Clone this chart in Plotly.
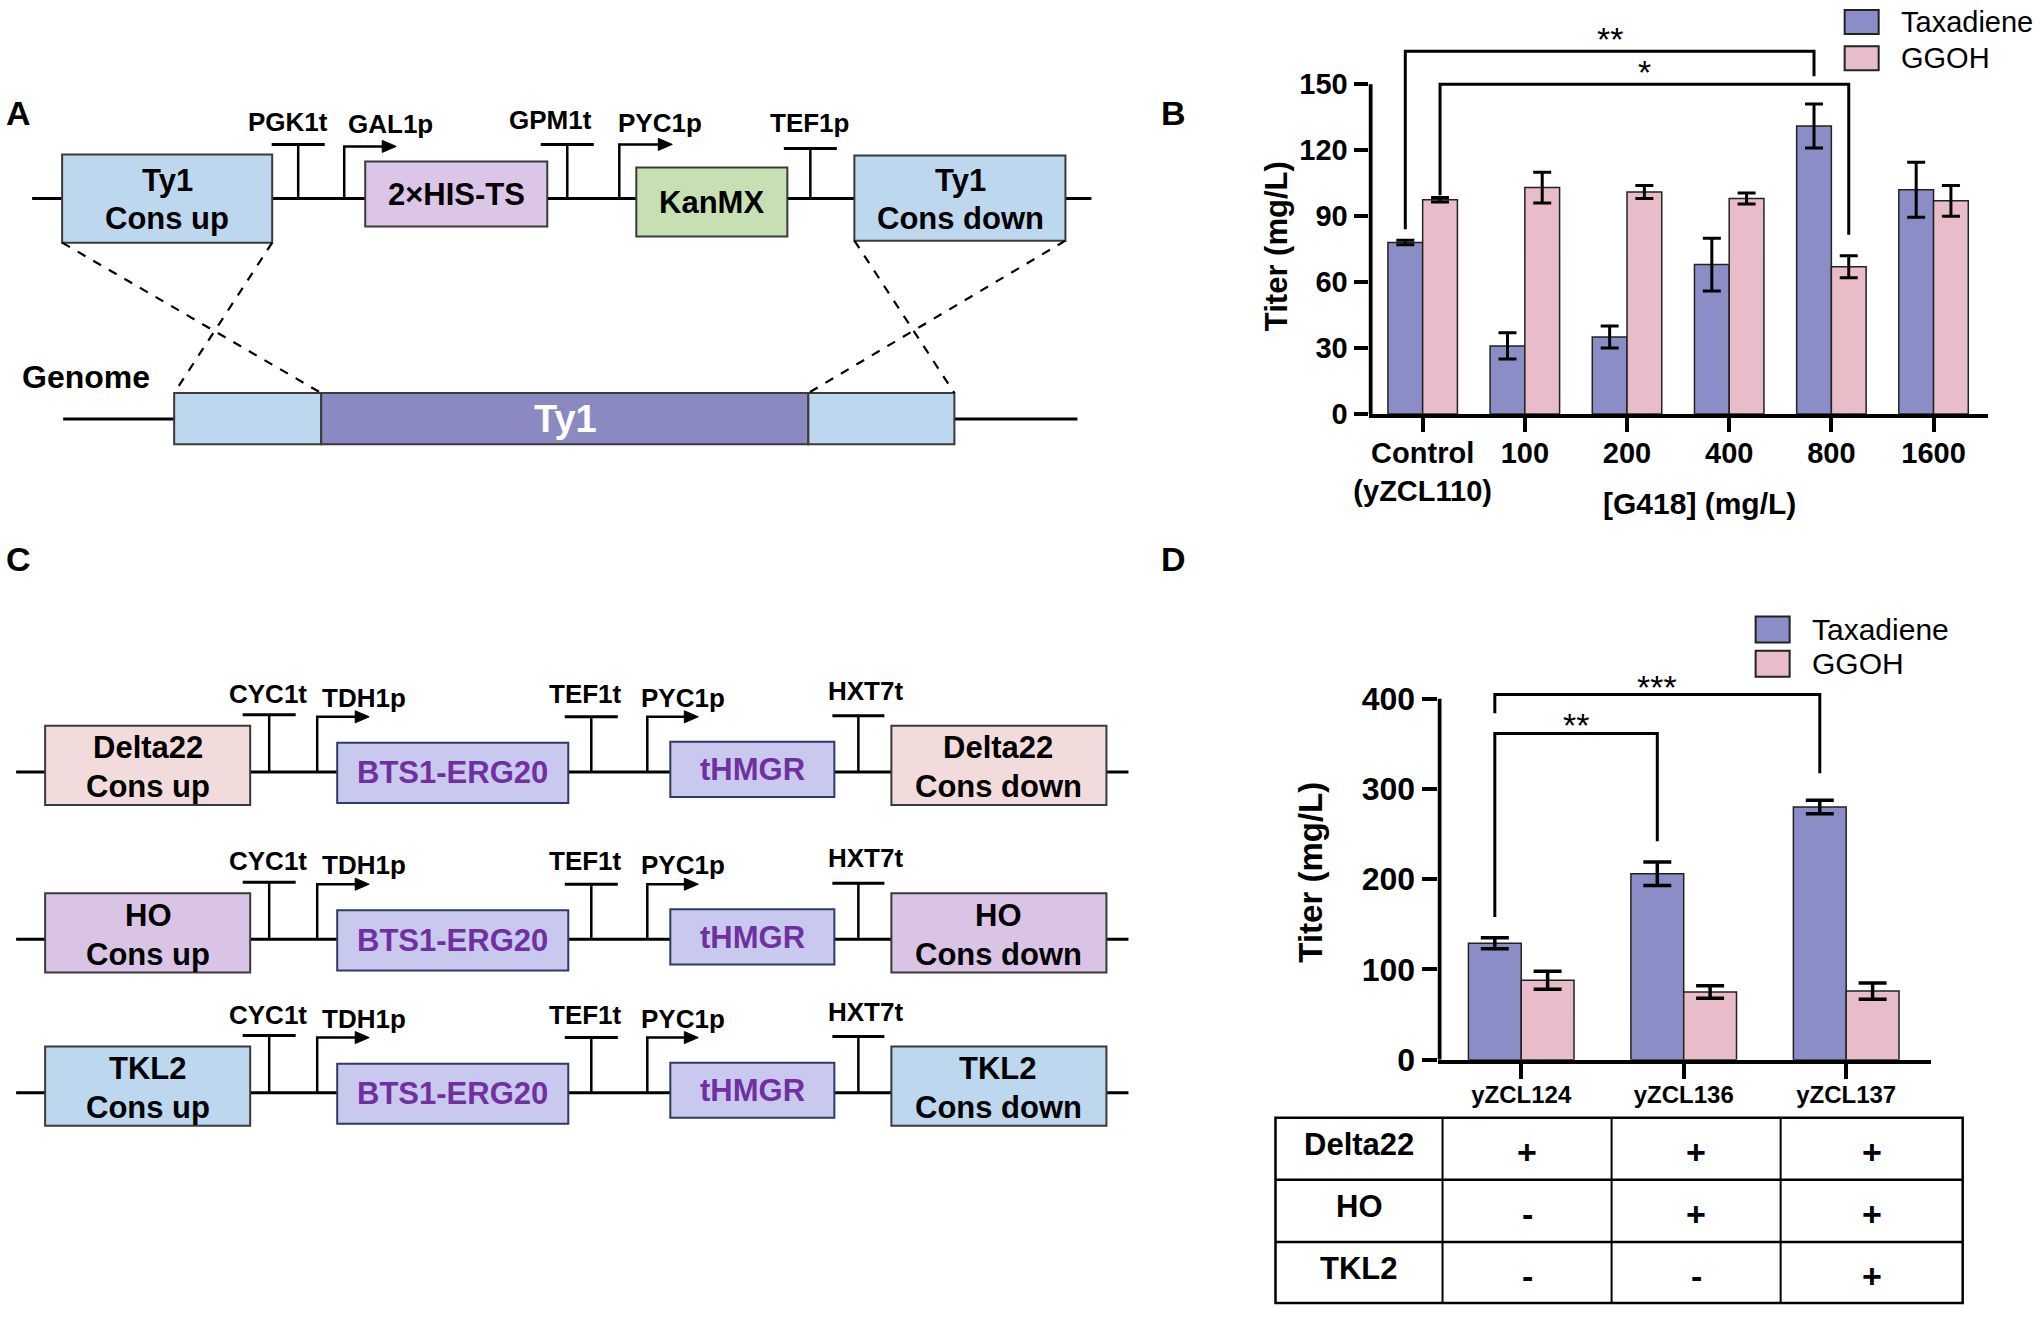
import plotly.graph_objects as go

W, H = 2042, 1323
FONT = "Liberation Sans, Arial, sans-serif"

# ---------------- data ----------------
g418_labels = ["Control<br>(yZCL110)", "100", "200", "400", "800", "1600"]
b_taxadiene = [78, 31, 35, 68, 131, 102]
b_taxadiene_err = [1, 6, 5, 12, 10, 12.5]
b_ggoh = [97.5, 103, 101, 98, 67, 97]
b_ggoh_err = [1, 7, 3, 2.5, 5, 7]

strains = ["yZCL124", "yZCL136", "yZCL137"]
d_taxadiene = [129, 206, 280]
d_taxadiene_err = [6, 13, 7.5]
d_ggoh = [88, 75, 76]
d_ggoh_err = [10, 7, 9]

table_rows = ["Delta22", "HO", "TKL2"]
table_marks = [["+", "+", "+"], ["-", "+", "+"], ["-", "-", "+"]]

# significance: (from category, to category, series, label)
b_sig = [(0, 4, "tax", "**"), (0, 4, "ggoh", "*")]
d_sig = [(0, 1, "tax", "**"), (0, 2, "tax", "***")]
# bracket geometry (top, left-leg bottom, right-leg bottom), in axis units
b_sig_geom = [(165, 84, 153.6), (150, 99.5, 81.5)]
d_sig_geom = [(361.6, 158, 242), (404.6, 384, 317.5)]

# ---------------- styles ----------------
C_TAX = "#8b8dc6"
C_GGOH = "#e8bdc9"
C_BLUE = "#bdd7ee"
C_HIS = "#dcc6e8"
C_KAN = "#c6e0b4"
C_TY1 = "#8a89c1"
C_DELTA = "#f2dcdb"
C_HO = "#d9c4e6"
C_GENE = "#c9c9f0"
C_PURPLE = "#7030a0"

shapes = []
annotations = []


def px(x):
    # horizontal calibration of the layout grid
    x = 1.0077 * x - 15
    return x / W


def py(y):
    # vertical calibration of the layout grid
    y = min(1.0163 * y - 2.0, 1321)
    return 1 - y / H


def line(x0, y0, x1, y1, width=3, color="black", dash=None):
    shapes.append(dict(type="line", xref="paper", yref="paper",
                       x0=px(x0), y0=py(y0), x1=px(x1), y1=py(y1),
                       line=dict(color=color, width=width, dash=dash)))


def rect(x0, y0, x1, y1, fill, lc="#3a3a3a", lw=2):
    shapes.append(dict(type="rect", xref="paper", yref="paper",
                       x0=px(x0), y0=py(y0), x1=px(x1), y1=py(y1),
                       fillcolor=fill, line=dict(color=lc, width=lw)))


def text(x, y, s, size, color="black", bold=True, xanchor="center",
         yanchor="middle", angle=0):
    annotations.append(dict(xref="paper", yref="paper", x=px(x), y=py(y),
                            text=f"<b>{s}</b>" if bold else s, showarrow=False,
                            font=dict(size=size, color=color, family=FONT),
                            xanchor=xanchor, yanchor=yanchor, textangle=angle))


def terminator(x, yline, ytop, half=26):
    line(x, yline, x, ytop, width=2.5)
    line(x - half, ytop, x + half, ytop, width=3)


def promoter(x, yline, ytop, xend, head=14, hh=6):
    p = f"M {px(x)},{py(yline)} L {px(x)},{py(ytop)} L {px(xend - head + 2)},{py(ytop)}"
    shapes.append(dict(type="path", xref="paper", yref="paper", path=p,
                       line=dict(color="black", width=2.5)))
    t = (f"M {px(xend)},{py(ytop)} L {px(xend - head)},{py(ytop - hh)} "
         f"L {px(xend - head)},{py(ytop + hh)} Z")
    shapes.append(dict(type="path", xref="paper", yref="paper", path=t,
                       fillcolor="black", line=dict(color="black", width=1)))


# ---------------- panel letters ----------------
for lab, (x, y) in zip("ABCD", [(18, 115), (1173, 115), (18, 560), (1173, 560)]):
    text(x, y, lab, 34)

# ---------------- panel A ----------------
LBL = 26
BOX = 31
line(32, 200, 1091, 200, width=3)
rect(62, 156, 272, 244, C_BLUE)
text(167, 182, "Ty1", BOX)
text(167, 220, "Cons up", BOX)
terminator(298, 200, 146, 26.5)
text(288, 124, "PGK1t", LBL)
promoter(344, 200, 148, 396)
text(390, 126, "GAL1p", LBL)
rect(365, 163, 547, 228, C_HIS)
text(456, 196, "2×HIS-TS", BOX)
terminator(567, 200, 146, 26.5)
text(550, 122, "GPM1t", LBL)
promoter(619, 200, 146, 672)
text(660, 125, "PYC1p", LBL)
rect(636, 169, 787, 238, C_KAN)
text(711, 204, "KanMX", BOX)
terminator(810, 200, 150, 26.5)
text(809, 125, "TEF1p", LBL)
rect(854, 157, 1065, 242, C_BLUE)
text(960, 182, "Ty1", BOX)
text(960, 220, "Cons down", BOX)

# genome
text(86, 378, "Genome", 32)
line(63, 420, 1077, 420, width=3)
rect(174, 394, 321, 445, C_BLUE)
rect(321, 394, 808, 445, C_TY1)
rect(808, 394, 954, 445, C_BLUE)
text(565, 420, "Ty1", 38, color="white")
for (x0, y0, x1, y1) in [(62, 244, 321, 394), (272, 244, 174, 394),
                         (854, 242, 954, 394), (1065, 242, 808, 394)]:
    line(x0, y0, x1, y1, width=2.2, dash="dash")

# ---------------- panel C ----------------
c_sites = ["Delta22", "HO", "TKL2"]
c_colors = [C_DELTA, C_HO, C_BLUE]
c_offsets = [0, 167, 320]
for site, col, dy in zip(c_sites, c_colors, c_offsets):
    yl = 772 + dy
    line(16, yl, 1128, yl, width=3)
    rect(45, 726 + dy, 250, 805 + dy, col)
    text(148, 748 + dy, site, BOX)
    text(148, 787 + dy, "Cons up", BOX)
    terminator(269, yl, 715 + dy, 26.5)
    text(268, 694 + dy, "CYC1t", LBL)
    promoter(317, yl, 717 + dy, 369)
    text(364, 698 + dy, "TDH1p", LBL)
    rect(337, 743 + dy, 568, 803 + dy, C_GENE, lc="#2e3a66")
    text(452, 773 + dy, "BTS1-ERG20", BOX, color=C_PURPLE)
    terminator(591, yl, 717 + dy, 26.5)
    text(585, 694 + dy, "TEF1t", LBL)
    promoter(647, yl, 717 + dy, 698)
    text(683, 698 + dy, "PYC1p", LBL)
    rect(670, 742 + dy, 834, 797 + dy, C_GENE, lc="#2e3a66")
    text(752, 770 + dy, "tHMGR", BOX, color=C_PURPLE)
    terminator(858, yl, 716 + dy, 26)
    text(865, 691 + dy, "HXT7t", LBL)
    rect(891, 726 + dy, 1106, 805 + dy, col)
    text(998, 748 + dy, site, BOX)
    text(998, 787 + dy, "Cons down", BOX)

# ---------------- panel B (bar chart) ----------------
BW_B = 0.34
b_x = list(range(len(g418_labels)))
fig = go.Figure()
fig.add_trace(go.Bar(x=b_x, y=b_taxadiene, width=BW_B, offset=-BW_B, name="Taxadiene",
                     marker=dict(color=C_TAX, line=dict(color="#222", width=1.5)),
                     error_y=dict(type="data", array=b_taxadiene_err, color="black",
                                  thickness=3, width=9),
                     xaxis="x", yaxis="y", showlegend=False))
fig.add_trace(go.Bar(x=b_x, y=b_ggoh, width=BW_B, offset=0, name="GGOH",
                     marker=dict(color=C_GGOH, line=dict(color="#222", width=1.5)),
                     error_y=dict(type="data", array=b_ggoh_err, color="black",
                                  thickness=3, width=9),
                     xaxis="x", yaxis="y", showlegend=False))

BW_D = 0.325
d_x = list(range(len(strains)))
fig.add_trace(go.Bar(x=d_x, y=d_taxadiene, width=BW_D, offset=-BW_D, name="Taxadiene",
                     marker=dict(color=C_TAX, line=dict(color="#222", width=1.5)),
                     error_y=dict(type="data", array=d_taxadiene_err, color="black",
                                  thickness=3.5, width=14),
                     xaxis="x2", yaxis="y2", showlegend=False))
fig.add_trace(go.Bar(x=d_x, y=d_ggoh, width=BW_D, offset=0, name="GGOH",
                     marker=dict(color=C_GGOH, line=dict(color="#222", width=1.5)),
                     error_y=dict(type="data", array=d_ggoh_err, color="black",
                                  thickness=3.5, width=14),
                     xaxis="x2", yaxis="y2", showlegend=False))

# axis geometry (pixels, before calibration)
B_X0, B_X1, B_Y0, B_Y150 = 1370, 1987, 415, 86
B_TOP = 172
B_XR = [-0.53, 5.53]
D_X0, D_X1, D_Y0, D_Y400 = 1439, 1930, 1059, 699
D_TOP = 440
D_XR = [-0.515, 2.52]


def y_domain(y0_px, ytop_px, top_val, val_px_top):
    # value 0 at y0_px, value val_px_top at ytop_px ; extend up to top_val
    lo = py(y0_px)
    hi_ref = py(ytop_px)
    hi = lo + (hi_ref - lo) * top_val / val_px_top
    return [lo, hi]


axis_common = dict(showgrid=False, zeroline=False, ticks="outside", tickcolor="black",
                   tickwidth=4, color="black")

fig.update_layout(
    xaxis=dict(domain=[px(B_X0 - 2), px(B_X1)], range=B_XR, anchor="y",
               tickvals=b_x, ticktext=g418_labels, ticklen=14, showline=True,
               linewidth=4, linecolor="black", ticklabelstandoff=-4,
               tickfont=dict(size=29, family=FONT, weight="bold", color="black"),
               **axis_common),
    yaxis=dict(domain=y_domain(B_Y0, B_Y150, B_TOP, 150), range=[0, B_TOP], anchor="x",
               tickvals=[0, 30, 60, 90, 120, 150], ticklen=14, showline=False,
               tickfont=dict(size=29, family=FONT, weight="bold", color="black"),
               **axis_common),
    xaxis2=dict(domain=[px(D_X0 - 2), px(D_X1)], range=D_XR, anchor="y2",
                tickvals=d_x, ticktext=strains, ticklen=15, showline=True,
                linewidth=4, linecolor="black", ticklabelstandoff=-4,
                tickfont=dict(size=24, family=FONT, weight="bold", color="black"),
                **axis_common),
    yaxis2=dict(domain=y_domain(D_Y0, D_Y400, D_TOP, 400), range=[0, D_TOP], anchor="x2",
                tickvals=[0, 100, 200, 300, 400], ticklen=15, showline=False,
                tickfont=dict(size=32, family=FONT, weight="bold", color="black"),
                **axis_common),
)

# y-axis lines stopping at the top tick
shapes.append(dict(type="line", xref="x", yref="y", x0=-0.51, x1=-0.51, y0=0, y1=150,
                   line=dict(color="black", width=4)))
shapes.append(dict(type="line", xref="x2", yref="y2", x0=-0.503, x1=-0.503, y0=0, y1=400,
                   line=dict(color="black", width=4)))


def brackets(sigs, geoms, bw, xref, yref, star_size, yshift):
    for (c0, c1, ser, lab), (top, lb, rb) in zip(sigs, geoms):
        off = -bw / 2 if ser == "tax" else bw / 2
        xa, xb = c0 + off, c1 + off
        path = f"M {xa},{lb} L {xa},{top} L {xb},{top} L {xb},{rb}"
        shapes.append(dict(type="path", xref=xref, yref=yref, path=path,
                           line=dict(color="black", width=3)))
        annotations.append(dict(xref=xref, yref=yref, x=(xa + xb) / 2, y=top,
                                text=lab, showarrow=False, yanchor="bottom",
                                yshift=yshift, font=dict(size=star_size, family=FONT,
                                                         color="black")))


brackets(b_sig, b_sig_geom, BW_B, "x", "y", 34, -9)
brackets(d_sig, d_sig_geom, BW_D, "x2", "y2", 34, -13)

# axis titles
text(1276, 247, "Titer (mg/L)", 31, angle=-90)
text(1699, 504, "[G418] (mg/L)", 30)
text(1310, 872, "Titer (mg/L)", 33, angle=-90)

# legends
def legend(x0, ys, names, colors, size):
    for (y0, y1), nm, col in zip(ys, names, colors):
        rect(x0, y0, x0 + 34, y1, col, lc="#222", lw=2)
        text(x0 + 54, (y0 + y1) / 2, nm, size, bold=False, xanchor="left")


legend(1844, [(12, 36), (48, 72)], ["Taxadiene", "GGOH"], [C_TAX, C_GGOH], 29)
legend(1755, [(617, 643), (651, 677)], ["Taxadiene", "GGOH"], [C_TAX, C_GGOH], 30)

# ---------------- table (panel D) ----------------
col_edges = [1275, 1442, 1611, 1780, 1962]
row_edges = [1117, 1184, 1251, 1318]
T_TOP = row_edges[0]
T_BOT = (1322 + 2.0) / 1.0163


def ty(y):
    # fit the table into the space left under the chart
    return T_TOP + (y - T_TOP) * (T_BOT - T_TOP) / (row_edges[-1] - T_TOP)


rect(col_edges[0], ty(row_edges[0]), col_edges[-1], ty(row_edges[-1]), "rgba(0,0,0,0)",
     lc="black", lw=2.5)
for xe in col_edges[1:-1]:
    line(xe, ty(row_edges[0]), xe, ty(row_edges[-1]), width=2)
for ye in row_edges[1:-1]:
    line(col_edges[0], ty(ye), col_edges[-1], ty(ye), width=2.5)
for i, rname in enumerate(table_rows):
    yc = ty((row_edges[i] + row_edges[i + 1]) / 2)
    text((col_edges[0] + col_edges[1]) / 2, yc - 4, rname, 31)
    for j, mk in enumerate(table_marks[i]):
        text((col_edges[j + 1] + col_edges[j + 2]) / 2, yc + 3, mk, 34)

fig.update_layout(
    width=W, height=H, autosize=False,
    margin=dict(l=0, r=0, t=0, b=0),
    paper_bgcolor="white", plot_bgcolor="rgba(0,0,0,0)",
    shapes=shapes, annotations=annotations,
    font=dict(family=FONT, color="black"),
    showlegend=False,
)

fig.write_html("out.html",
               config={"displayModeBar": False, "staticPlot": True},
               post_script="document.body.style.margin='0px';document.body.style.overflow='hidden';")
